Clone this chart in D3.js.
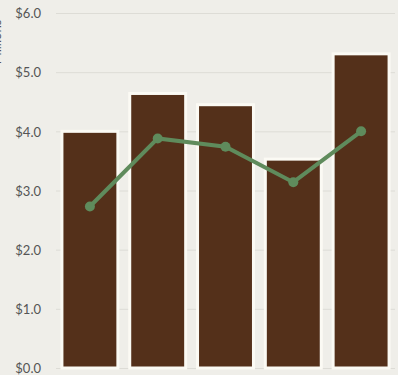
<!DOCTYPE html>
<html>
<head>
<meta charset="utf-8">
<script src="https://cdn.jsdelivr.net/npm/d3@7"></script>
<style>
  html, body { margin: 0; padding: 0; background: #efeee9; }
  svg { display: block; }
  .tick text { font-family: Lato, "Open Sans", sans-serif; font-size: 13px; fill: #555; }
</style>
</head>
<body>
<div id="chart"></div>
<script>
// chart values (millions of dollars)
const categories = ["A", "B", "C", "D", "E"];
const barValues = [4.0, 4.64, 4.45, 3.53, 5.31];
const lineValues = [2.73, 3.88, 3.74, 3.14, 4.0];
const yTicks = [0, 1, 2, 3, 4, 5, 6];

const width = 398, height = 375;
const margin = { top: 13, right: 3, bottom: 7, left: 56 };

const svg = d3.select("#chart").append("svg")
  .attr("width", width)
  .attr("height", height);

const x = d3.scaleBand()
  .domain(categories)
  .range([margin.left, width - margin.right])
  .paddingInner(0.175)
  .paddingOuter(0.0875);

const y = d3.scaleLinear()
  .domain([0, 6])
  .range([height - margin.bottom, margin.top]);

// gridlines + tick labels
const yAxis = svg.append("g")
  .attr("transform", "translate(" + margin.left + ",0)")
  .call(d3.axisLeft(y)
    .tickValues(yTicks)
    .tickSize(-(width - margin.left - margin.right))
    .tickPadding(15)
    .tickFormat(d => "$" + d3.format(".1f")(d)));
yAxis.select(".domain").remove();
yAxis.selectAll(".tick line").attr("stroke", "#dddcd6").attr("stroke-width", 1);
yAxis.selectAll(".tick text").attr("dy", "0.36em");

// axis title, mostly outside the left edge as in the original crop
svg.append("text")
  .attr("transform", "translate(1,42) rotate(-90)")
  .attr("text-anchor", "middle")
  .style("font-family", "Lato, sans-serif")
  .style("font-size", "13px")
  .style("fill", "#555")
  .text("Millions");

// bars
svg.append("g").selectAll("rect")
  .data(barValues)
  .join("rect")
  .attr("x", (d, i) => x(categories[i]))
  .attr("y", d => y(d))
  .attr("width", x.bandwidth())
  .attr("height", d => y(0) - y(d))
  .attr("fill", "#54301a")
  .attr("stroke", "#fbfaf4")
  .attr("stroke-width", 3);

// line
const cx = (d, i) => x(categories[i]) + x.bandwidth() / 2;
svg.append("path")
  .datum(lineValues)
  .attr("fill", "none")
  .attr("stroke", "#5f8b5c")
  .attr("stroke-width", 4)
  .attr("d", d3.line().x(cx).y(d => y(d)));

svg.append("g").selectAll("circle")
  .data(lineValues)
  .join("circle")
  .attr("cx", cx)
  .attr("cy", d => y(d))
  .attr("r", 5)
  .attr("fill", "#5f8b5c");
</script>
</body>
</html>
